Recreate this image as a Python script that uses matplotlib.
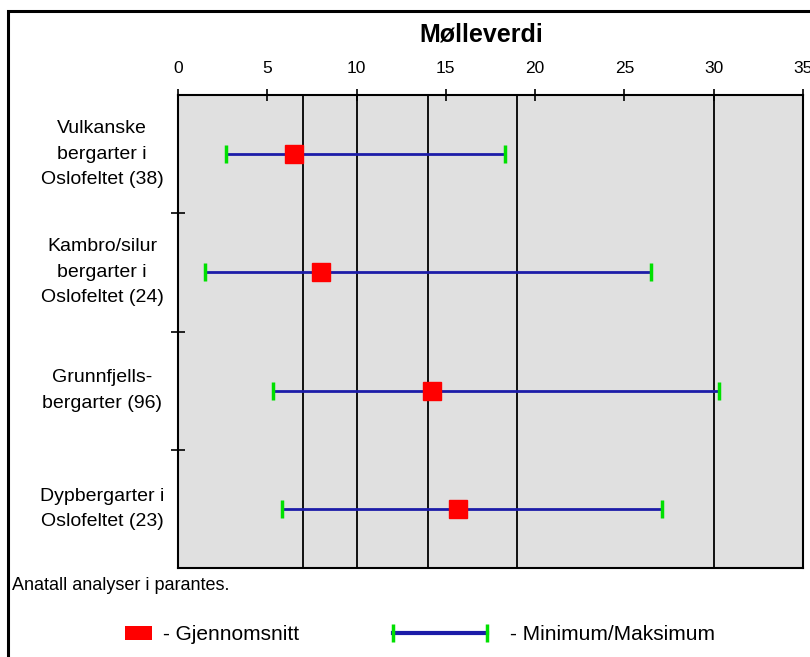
import matplotlib.pyplot as plt
from matplotlib.lines import Line2D
from matplotlib.patches import Patch, Rectangle
from matplotlib.legend_handler import HandlerLine2D
from matplotlib.transforms import blended_transform_factory

plt.rcParams['font.family'] = ['Liberation Sans', 'DejaVu Sans']

# Bergartsgrupper (antall analyser i parentes)
grupper = [
    'Vulkanske\nbergarter i\nOslofeltet (38)',
    'Kambro/silur\nbergarter i\nOslofeltet (24)',
    'Grunnfjells-\nbergarter (96)',
    'Dypbergarter i\nOslofeltet (23)',
]
minimum = [2.7, 1.5, 5.3, 5.8]
snitt = [6.5, 8.0, 14.2, 15.7]
maksimum = [18.3, 26.5, 30.3, 27.1]

# Grenseverdier for mølleverdi
grenser = [7, 10, 14, 19, 30]
x_ticks = [0, 5, 10, 15, 20, 25, 30, 35]

blaa = '#1c1ca8'
gronn = '#00e000'

fig = plt.figure(figsize=(8.1, 6.57), dpi=100)
ax = fig.add_axes([178 / 810, 89 / 657, 625 / 810, 473 / 657])
ax.set_facecolor('#e0e0e0')

y = list(range(len(grupper)))
ax.vlines(grenser, -0.5, 3.5, color='black', lw=1.3, zorder=2)
ax.hlines(y, minimum, maksimum, color=blaa, lw=2, zorder=3)
ax.plot(minimum, y, ls='none', marker='|', ms=13, mew=2.5, color=gronn, zorder=4)
ax.plot(maksimum, y, ls='none', marker='|', ms=13, mew=2.5, color=gronn, zorder=4)
ax.plot(snitt, y, ls='none', marker='s', ms=13.5, color='red', zorder=5)

ax.set_xlim(0, 35)
ax.set_ylim(3.5, -0.5)
ax.xaxis.tick_top()
ax.set_xticks(x_ticks)
ax.tick_params(axis='x', direction='inout', length=9, width=1.2, labelsize=12.5, pad=9)
ax.set_yticks([0.5, 1.5, 2.5])
ax.set_yticklabels([])
ax.tick_params(axis='y', direction='inout', length=10, width=1.2)
for s in ax.spines.values():
    s.set_linewidth(1.5)

trans = blended_transform_factory(fig.transFigure, ax.transData)
for i, g in enumerate(grupper):
    ax.text(102 / 810, i, g, transform=trans, ha='center', va='center',
            fontsize=14, linespacing=1.65, multialignment='center')

fig.text(481 / 810, 1 - 35 / 657, 'Mølleverdi', fontsize=18, fontweight='bold',
         ha='center', va='center')
fig.text(12 / 810, 1 - 586 / 657, 'Anatall analyser i parantes.', fontsize=13,
         va='center')

# ramme rundt hele figuren
fig.add_artist(Rectangle((8 / 810, -0.05), 1.0, 1 - 11 / 657 + 0.05,
                         transform=fig.transFigure, fill=False, lw=2.2, ec='black'))

# forklaring
h_snitt = Patch(fc='red', ec='none')
fig.legend(handles=[h_snitt], labels=['- Gjennomsnitt'], loc='center left',
           bbox_to_anchor=(125 / 810, 1 - 635 / 657), frameon=False, fontsize=15,
           handlelength=1.3, handleheight=0.67, handletextpad=0.53,
           borderpad=0, borderaxespad=0)

h_minmax = Line2D([], [], color=blaa, lw=3, marker='|', ms=13, mew=2.5, mec=gronn)
fig.legend(handles=[h_minmax], labels=['- Minimum/Maksimum'], loc='center left',
           bbox_to_anchor=(387 / 810, 1 - 635 / 657), frameon=False, fontsize=15,
           handlelength=5.1, handletextpad=0.82, borderpad=0, borderaxespad=0,
           handler_map={h_minmax: HandlerLine2D(numpoints=2)})

fig.savefig('out.png', dpi=100)
